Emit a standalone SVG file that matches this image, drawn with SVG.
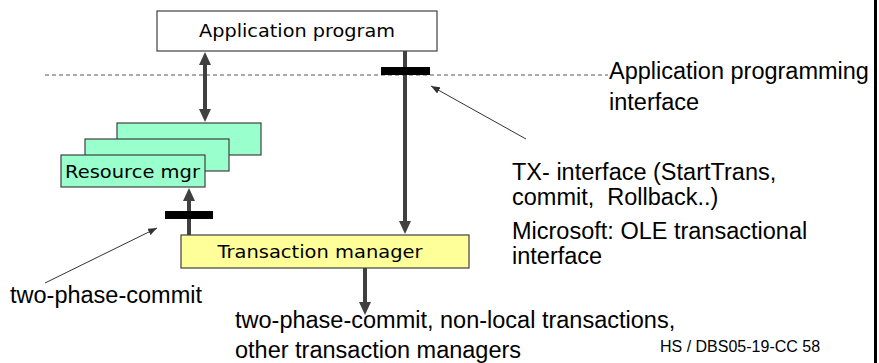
<svg xmlns="http://www.w3.org/2000/svg" width="879" height="363" viewBox="0 0 879 363">
<defs>
<style>
.box{stroke:#404040;stroke-width:1.2}
.green{fill:#99FFCC}
.yellow{fill:#FFFF99}
.white{fill:#FFFFFF}
.comic{font-family:"DejaVu Sans",sans-serif;font-size:17px;fill:#000}
.arial{font-family:"Liberation Sans",Arial,sans-serif;font-size:23.5px;fill:#000;white-space:pre}
.conn{stroke:#404040;stroke-width:4;fill:none}
.ptr{stroke:#333;stroke-width:1;fill:none}
.bar{fill:#000}
</style>
<marker id="big" viewBox="0 0 13 12" refX="3" refY="6" markerWidth="13" markerHeight="12" markerUnits="userSpaceOnUse" orient="auto-start-reverse">
<path d="M0,0 L13,6 L0,12 z" fill="#404040"/>
</marker>
<marker id="small" viewBox="0 0 9 7" refX="9" refY="3.5" markerWidth="9" markerHeight="7" markerUnits="userSpaceOnUse" orient="auto">
<path d="M0,0 L9,3.5 L0,7 z" fill="#333"/>
</marker>
</defs>

<line x1="45" y1="75" x2="608" y2="75" stroke="#555" stroke-width="1" stroke-dasharray="4 3"/>

<g id="app-program">
<rect class="box white" x="157" y="11" width="280" height="40"/>
<text class="comic" x="297" y="37" text-anchor="middle" textLength="196" lengthAdjust="spacingAndGlyphs">Application program</text>
</g>

<g id="resource-mgr">
<rect class="box green" x="117" y="123" width="144" height="32"/>
<rect class="box green" x="85" y="139" width="144" height="32"/>
<rect class="box green" x="61" y="155" width="144" height="32"/>
<text class="comic" x="65" y="178" textLength="135" lengthAdjust="spacingAndGlyphs">Resource mgr</text>
</g>

<g id="transaction-manager">
<rect class="box yellow" x="181" y="235" width="288" height="33"/>
<text class="comic" x="320" y="258" text-anchor="middle" textLength="205" lengthAdjust="spacingAndGlyphs">Transaction manager</text>
</g>

<g id="connectors">
<line class="conn" x1="205" y1="62" x2="205" y2="112" marker-start="url(#big)" marker-end="url(#big)"/>
<line class="conn" x1="405" y1="51" x2="405" y2="224" marker-end="url(#big)"/>
<line class="conn" x1="189" y1="235" x2="189" y2="198" marker-end="url(#big)"/>
<line class="conn" x1="365" y1="268" x2="365" y2="305" marker-end="url(#big)"/>
<rect class="bar" x="381" y="67" width="49" height="8"/>
<rect class="bar" x="165" y="211" width="48" height="8"/>
<line class="ptr" x1="526" y1="139" x2="431" y2="86" marker-end="url(#small)"/>
<line class="ptr" x1="45" y1="283" x2="157" y2="228" marker-end="url(#small)"/>
</g>

<g id="labels">
<text class="arial" x="609" y="79">Application programming</text>
<text class="arial" x="609" y="110">interface</text>
<text class="arial" x="512" y="180">TX- interface (StartTrans,</text>
<text class="arial" x="512" y="205" xml:space="preserve">commit,  Rollback..)</text>
<text class="arial" x="512" y="239">Microsoft: OLE transactional</text>
<text class="arial" x="512" y="264">interface</text>
<text class="arial" x="10" y="303">two-phase-commit</text>
<text class="arial" x="235" y="328">two-phase-commit, non-local transactions,</text>
<text class="arial" x="235" y="358">other transaction managers</text>
<text x="660" y="352" font-family="Liberation Sans, Arial, sans-serif" font-size="16" fill="#000">HS / DBS05-19-CC 58</text>
</g>

<rect x="874" y="0" width="3" height="363" fill="#000"/>
</svg>
